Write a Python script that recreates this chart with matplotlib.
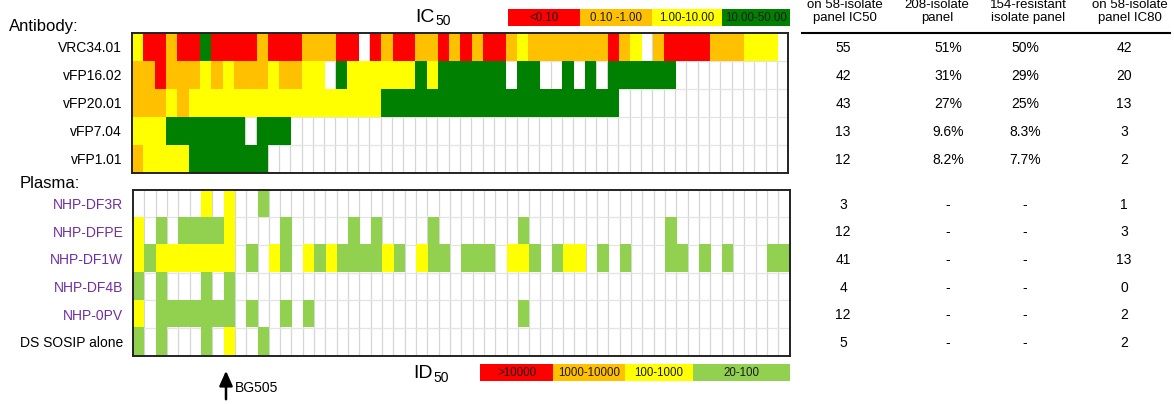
import numpy as np
import matplotlib.pyplot as plt
from matplotlib.colors import ListedColormap
from matplotlib.patches import Rectangle
from matplotlib.transforms import blended_transform_factory

plt.rcParams['font.family'] = ['Liberation Sans', 'DejaVu Sans']

# cell codes: . = no neutralization, R/O/Y/G = IC50 bins, Y/L = ID50 bins
antibodies = ["VRC34.01", "vFP16.02", "vFP20.01", "vFP7.04", "vFP1.01"]
ab_rows = [
    "YRRORRGRRR" "RORRROOORR" ".RORROOROR" "ORROYOOOOO" "OOROY.ORRR" "ROOOYYY.",
    "OOROOOYOYO" "OOYOOYY.GY" "YYYYYGYGGG" "GGG.GG..G." "G.GGGGGG.." "........",
    "OOOYOYYYYY" "YYYYYYYYYY" "YYGGGGGGGG" "GGGGGGGGGG" "GGG......." "........",
    "YYYGGGGGGG" ".GGG......" ".........." ".........." ".........." "........",
    "OYYYYGGGGG" "GG........" ".........." ".........." ".........." "........",
]
plasmas = ["NHP-DF3R", "NHP-DFPE", "NHP-DF1W", "NHP-DF4B", "NHP-0PV", "DS SOSIP alone"]
pl_rows = [
    "......Y.Y." ".L........" ".........." ".........." ".........." "........",
    "Y.L.LLLLY." "...L.....L" ".L....L..." "....L....." ".......L.." "........",
    "YLYYYYYYY." "L.YL.YLYLL" "LLYL.YLL.L" "LL.YYL.LYY" ".L.L...LL." "L.L...LL",
    "L.L...L.L." ".........." ".........." ".........." ".........." "........",
    "Y.LLLLLLL." "L..L.L...." ".........." "....L....." ".........." "........",
    "L.L...L.Y." ".L........" ".........." ".........." ".........." "........",
]
pl_label_colors = ["#7030A0"] * 5 + ["black"]

ic50_bins = ["<0.10", "0.10 -1.00", "1.00-10.00", "10.00-50.00"]
id50_bins = [">10000", "1000-10000", "100-1000", "20-100"]

tbl_heads = ["on 58-isolate\npanel IC50", "208-isolate\npanel",
             "154-resistant\nisolate panel", "on 58-isolate\npanel IC80"]
ab_ic50 = ["55", "42", "43", "13", "12"]
ab_208 = ["51%", "31%", "27%", "9.6%", "8.2%"]
ab_154 = ["50%", "29%", "25%", "8.3%", "7.7%"]
ab_ic80 = ["42", "20", "13", "3", "2"]
pl_ic50 = ["3", "12", "41", "4", "12", "5"]
pl_208 = ["-"] * 6
pl_154 = ["-"] * 6
pl_ic80 = ["1", "3", "13", "0", "2", "2"]

codes = ".ROYGL"
palette = ["white", "#FF0000", "#FFC000", "#FFFF00", "#008000", "#92D050"]
cmap = ListedColormap(palette)

W, H = 1174, 404
fig = plt.figure(figsize=(W / 100, H / 100), dpi=100)

ov = fig.add_axes([0, 0, 1, 1])
ov.set_xlim(0, W)
ov.set_ylim(H, 0)
ov.axis("off")


def heat(rows, box, labels, label_colors):
    x0, y0, x1, y1 = box
    ax = fig.add_axes([x0 / W, 1 - y1 / H, (x1 - x0) / W, (y1 - y0) / H])
    m = np.array([[codes.index(c) for c in r] for r in rows])
    nr, nc = m.shape
    for i in range(1, nc):
        ax.axvline(i, color="#D6D6D6", lw=0.9, zorder=0)
    for j in range(1, nr):
        ax.axhline(j, color="#E4E4E4", lw=0.9, zorder=0)
    ax.imshow(np.ma.masked_equal(m, 0), cmap=cmap, vmin=-0.5, vmax=5.5,
              interpolation="nearest", aspect="auto",
              extent=(0, nc, nr, 0), zorder=1)
    ax.set_xlim(0, nc)
    ax.set_ylim(nr, 0)
    ax.set_xticks([])
    ax.set_yticks(np.arange(nr) + 0.5)
    ax.set_yticklabels(labels, fontsize=10)
    for t, c in zip(ax.get_yticklabels(), label_colors):
        t.set_color(c)
    ax.tick_params(axis="y", length=0, pad=7)
    for s in ax.spines.values():
        s.set_linewidth(1.4)
        s.set_color("#222222")
    return ax


ax_ab = heat(ab_rows, (131.7, 33, 788.3, 172.5), antibodies, ["black"] * 5)
ax_pl = heat(pl_rows, (133, 189.5, 789.5, 355.5), plasmas, pl_label_colors)

ov.text(9, 26, "Antibody:", fontsize=12, va="center", ha="left")
ov.text(20, 184, "Plasma:", fontsize=12, va="center", ha="left")

# table on the right
head_x = [845, 937, 1028, 1130]
col_x = [843, 948, 1025, 1124]
for x, h in zip(head_x, tbl_heads):
    ov.text(x, 24, h, fontsize=9.5, ha="center", va="bottom", linespacing=1.1)
ov.plot([802, 1170], [33, 33], color="black", lw=1.5)

for ax, cols in [(ax_ab, [ab_ic50, ab_208, ab_154, ab_ic80]),
                 (ax_pl, [pl_ic50, pl_208, pl_154, pl_ic80])]:
    tr = blended_transform_factory(ov.transData, ax.transData)
    for x, vals in zip(col_x, cols):
        for j, v in enumerate(vals):
            ov.text(x, j + 0.55, v, transform=tr, fontsize=10,
                    ha="center", va="center")

# legends
def legend(x0, y0, widths, hgt, labels, colors, title, tx, ty):
    x = x0
    for w, lab, c in zip(widths, labels, colors):
        ov.add_patch(Rectangle((x, y0), w, hgt, facecolor=c, edgecolor="none"))
        ov.text(x + w / 2, y0 + hgt / 2 + 0.5, lab, fontsize=8.3, ha="center",
                va="center", color="#1a1a1a")
        x += w
    ov.text(tx, ty, title, fontsize=14, ha="left", va="center")
    ov.text(tx + len(title) * 9.6 + 1, ty + 4, "50", fontsize=10, ha="left",
            va="center")


legend(508, 9, [72, 72, 70, 68], 17, ic50_bins, palette[1:5], "IC", 415, 17)
legend(480, 364, [73, 72, 68, 97], 17, id50_bins,
       ["#FF0000", "#FFC000", "#FFFF00", "#92D050"], "ID", 413, 374)

ov.annotate("", xy=(226, 368), xytext=(226, 402),
            arrowprops=dict(arrowstyle="-|>,head_width=0.4,head_length=0.9",
                            color="black", lw=1.8))
ov.text(235, 388, "BG505", fontsize=10, ha="left", va="center")

fig.savefig("out.png", dpi=100)
